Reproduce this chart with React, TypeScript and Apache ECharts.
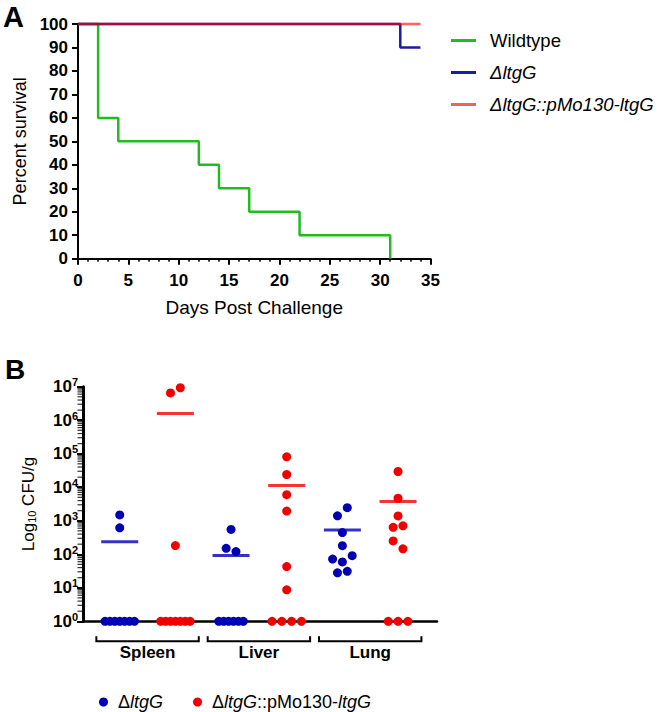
import React, { useEffect, useRef } from 'react';
import * as echarts from 'echarts';

// ---------- Panel A: survival ----------
const wildtypeDays = [0, 2, 4, 12, 14, 17, 22, 31];
const wildtypeSurvival = [100, 60, 50, 40, 30, 20, 10, 0];
const ltgGDays = [0, 32, 34];
const ltgGSurvival = [100, 90, 90];
const complementedDays = [0, 34];
const complementedSurvival = [100, 100];
const survivalNames = ['Wildtype', 'ΔltgG', 'ΔltgG::pMo130-ltgG'];

// ---------- Panel B: CFU per organ ----------
const organs = ['Spleen', 'Liver', 'Lung'];
const ltgGCfu = [
  [1490, 615, 1, 1, 1, 1, 1, 1, 1],
  [550, 150, 120, 1, 1, 1, 1, 1, 1],
  [2450, 1400, 445, 180, 91, 72, 59, 31, 28],
];
const ltgGSlots = [
  [0, 0, -3, -2, -1, 0, 1, 2, 3],
  [0, -1, 1, -2.5, -1.5, -0.5, 0.5, 1.5, 2.5],
  [1, -1, 0, 0, 2, -2, 0, 1, -1],
];
const compCfu = [
  [9300000, 6500000, 182, 1, 1, 1, 1, 1, 1, 1],
  [81000, 24000, 6000, 1950, 43, 8.7, 1, 1, 1, 1],
  [29500, 4700, 1390, 705, 635, 250, 145, 1, 1, 1],
];
const compSlots = [
  [1, -1, 0, -3, -2, -1, 0, 1, 2, 3],
  [0, 0, 0, 0, 0, 0, -3, -1, 1, 3],
  [0, 0, 0, 1, -1, -1, 1, -2, 0, 2],
];
const cfuTicks = [1, 10, 100, 1e3, 1e4, 1e5, 1e6, 1e7];
const cfuNames = ['B:ΔltgG', 'B:ΔltgG::pMo130-ltgG'];

const FONT = "'Liberation Sans', Arial, Helvetica, sans-serif";
const GREEN = '#22bb22';
const NAVY = '#1c1ca0';
const SALMON = '#ff0000';
const BLUE_B = '#0000b4';
const RED_B = '#f20000';
const SLOT = 0.088;

const zip = (a: number[], b: number[]) => a.map((v, i) => [v, b[i]]);
const mean = (a: number[]) => a.reduce((s, v) => s + v, 0) / a.length;

function dots(values: number[][], slots: number[][], strain: number) {
  const out: number[][] = [];
  values.forEach((arr, organ) => {
    arr.forEach((v, k) => out.push([1 + 2 * organ + strain + slots[organ][k] * SLOT, v]));
  });
  return out;
}
function means(values: number[][], strain: number) {
  return values.map((arr, organ) => [1 + 2 * organ + strain, mean(arr)]);
}
function minorTicks() {
  const out: number[][] = [];
  for (let d = 0; d < cfuTicks.length - 1; d++) {
    for (let m = 2; m <= 9; m++) out.push([0.34, m * cfuTicks[d]]);
  }
  return out;
}

export default function App() {
  const ref = useRef<HTMLDivElement>(null);
  useEffect(() => {
    if (!ref.current) return;
    const chart = echarts.init(ref.current, undefined, { renderer: 'svg' });
    const option: any = {
      animation: false,
      textStyle: { fontFamily: FONT },
      graphic: [
        { type: 'text', left: 3, top: 2, style: { text: 'A', font: `bold 29px ${FONT}`, fill: '#000' } },
        { type: 'text', left: 5, top: 355, style: { text: 'B', font: `bold 28px ${FONT}`, fill: '#000' } },
      ],
      legend: [
        {
          data: survivalNames,
          orient: 'vertical',
          left: 451,
          top: 26,
          itemWidth: 25,
          itemHeight: 3,
          itemGap: 13,
          icon: 'rect',
          padding: [5, 0, 5, 0],
          formatter: (n: string) => (n === 'Wildtype' ? `{n|${n}}` : `{i|${n}}`),
          textStyle: {
            padding: [0, 0, 0, 9],
            rich: {
              n: { fontSize: 18.5, fontFamily: FONT, color: '#000', lineHeight: 22 },
              i: { fontSize: 18.5, fontFamily: FONT, fontStyle: 'italic', color: '#000', lineHeight: 22 },
            },
          },
        },
        {
          data: [
            { name: cfuNames[0], itemStyle: { color: BLUE_B } },
            { name: cfuNames[1], itemStyle: { color: RED_B } },
          ],
          orient: 'horizontal',
          left: 99,
          top: 693,
          itemWidth: 9,
          itemHeight: 9,
          itemGap: 30,
          icon: 'circle',
          padding: 0,
          formatter: (n: string) =>
            n === cfuNames[0]
              ? '{n|Δ}{i|ltgG}'
              : '{n|Δ}{i|ltgG}{n|::pMo130-}{i|ltgG}',
          textStyle: {
            padding: [0, 0, 0, 5],
            rich: {
              n: { fontSize: 18, fontFamily: FONT, color: '#000', lineHeight: 17 },
              i: { fontSize: 18, fontFamily: FONT, fontStyle: 'italic', color: '#000', lineHeight: 17 },
            },
          },
        },
      ],
      grid: [
        { left: 78, top: 24, width: 352.5, height: 234.7 },
        { left: 83, top: 386.7, width: 354, height: 234.6 },
      ],
      xAxis: [
        {
          gridIndex: 0,
          type: 'value',
          min: 0,
          max: 35,
          interval: 5,
          name: 'Days Post Challenge',
          nameLocation: 'middle',
          nameGap: 39,
          nameTextStyle: { fontSize: 19, color: '#000', verticalAlign: 'top', fontFamily: FONT },
          axisLine: { lineStyle: { color: '#000', width: 2 } },
          axisTick: { length: 6, lineStyle: { color: '#000', width: 2 } },
          minorTick: { show: true, splitNumber: 5, length: 3, lineStyle: { color: '#000', width: 1.5 } },
          axisLabel: { margin: 13, fontSize: 17, fontWeight: 'bold', color: '#000', fontFamily: FONT },
          splitLine: { show: false },
        },
        {
          gridIndex: 1,
          type: 'value',
          min: 0.34,
          max: 6.7,
          axisLine: { onZero: false, lineStyle: { color: '#000', width: 2.5 } },
          axisTick: { show: false },
          axisLabel: { show: false },
          splitLine: { show: false },
        },
      ],
      yAxis: [
        {
          gridIndex: 0,
          type: 'value',
          min: 0,
          max: 100,
          interval: 10,
          name: 'Percent survival',
          nameLocation: 'middle',
          nameRotate: 90,
          nameGap: 42,
          nameTextStyle: { fontSize: 18, color: '#000', fontFamily: FONT },
          axisLine: { show: true, lineStyle: { color: '#000', width: 2 } },
          axisTick: { show: true, length: 6, lineStyle: { color: '#000', width: 2 } },
          axisLabel: { margin: 10, fontSize: 17, fontWeight: 'bold', color: '#000', fontFamily: FONT },
          splitLine: { show: false },
        },
        {
          gridIndex: 1,
          type: 'log',
          logBase: 10,
          min: 1,
          max: 1e7,
          splitNumber: 7,
          name: 'Log{s|10} CFU/g',
          nameLocation: 'middle',
          nameRotate: 90,
          nameGap: 46,
          nameTextStyle: {
            fontSize: 17,
            color: '#000',
            fontFamily: FONT,
            rich: { s: { fontSize: 11, color: '#000', fontFamily: FONT, verticalAlign: 'bottom', lineHeight: 14 } },
          },
          axisLine: { show: true, lineStyle: { color: '#000', width: 3 } },
          axisTick: { show: true, length: 6, lineStyle: { color: '#000', width: 2 } },
          axisLabel: {
            margin: 5,
            color: '#000',
            formatter: (v: number) => `{b|10}{s|${Math.round(Math.log10(v))}}`,
            rich: {
              b: { fontSize: 17, fontWeight: 'bold', fontFamily: FONT, color: '#000', lineHeight: 20 },
              s: { fontSize: 11, fontWeight: 'bold', fontFamily: FONT, color: '#000', verticalAlign: 'top', lineHeight: 12 },
            },
          },
          splitLine: { show: false },
        },
      ],
      series: [
        {
          name: survivalNames[0],
          type: 'line',
          xAxisIndex: 0,
          yAxisIndex: 0,
          step: 'end',
          showSymbol: false,
          clip: false,
          data: zip(wildtypeDays, wildtypeSurvival),
          itemStyle: { color: GREEN },
          lineStyle: { color: GREEN, width: 2.5 },
          z: 2,
        },
        {
          name: survivalNames[1],
          type: 'line',
          xAxisIndex: 0,
          yAxisIndex: 0,
          step: 'end',
          showSymbol: false,
          clip: false,
          data: zip(ltgGDays, ltgGSurvival),
          itemStyle: { color: NAVY },
          lineStyle: { color: NAVY, width: 2.5 },
          z: 3,
        },
        {
          name: survivalNames[2],
          type: 'line',
          xAxisIndex: 0,
          yAxisIndex: 0,
          step: 'end',
          showSymbol: false,
          clip: false,
          data: zip(complementedDays, complementedSurvival),
          itemStyle: { color: '#f06060' },
          lineStyle: { color: SALMON, width: 2.5, opacity: 0.62 },
          z: 4,
        },
        {
          type: 'scatter',
          xAxisIndex: 1,
          yAxisIndex: 1,
          symbol: 'rect',
          symbolSize: [37, 3],
          clip: false,
          silent: true,
          data: means(ltgGCfu, 0),
          itemStyle: { color: BLUE_B },
          z: 2,
        },
        {
          type: 'scatter',
          xAxisIndex: 1,
          yAxisIndex: 1,
          symbol: 'rect',
          symbolSize: [37, 3],
          clip: false,
          silent: true,
          data: means(compCfu, 1),
          itemStyle: { color: RED_B },
          z: 2,
        },
        {
          name: cfuNames[0],
          type: 'scatter',
          xAxisIndex: 1,
          yAxisIndex: 1,
          symbol: 'circle',
          symbolSize: 9,
          clip: false,
          data: dots(ltgGCfu, ltgGSlots, 0),
          itemStyle: { color: BLUE_B, opacity: 1 },
          z: 4,
        },
        {
          name: cfuNames[1],
          type: 'scatter',
          xAxisIndex: 1,
          yAxisIndex: 1,
          symbol: 'circle',
          symbolSize: 9,
          clip: false,
          data: dots(compCfu, compSlots, 1),
          itemStyle: { color: RED_B, opacity: 1 },
          z: 4,
        },
        {
          type: 'scatter',
          xAxisIndex: 1,
          yAxisIndex: 1,
          symbol: 'rect',
          symbolSize: [5, 1.2],
          symbolOffset: [-3, 0],
          clip: false,
          silent: true,
          data: minorTicks(),
          itemStyle: { color: '#000' },
          z: 1,
        },
        {
          type: 'custom',
          xAxisIndex: 1,
          yAxisIndex: 1,
          clip: false,
          silent: true,
          data: organs.map((_, i) => [1.5 + 2 * i, 1]),
          encode: { x: 0, y: 1 },
          renderItem: (params: any, api: any) => {
            const c = api.value(0);
            const l = api.coord([c - 0.92, 1]);
            const r = api.coord([c + 0.92, 1]);
            const y0 = l[1];
            return {
              type: 'group',
              children: [
                {
                  type: 'polyline',
                  shape: { points: [[l[0], y0 + 15], [l[0], y0 + 20], [r[0], y0 + 20], [r[0], y0 + 15]] },
                  style: { stroke: '#000', lineWidth: 2, fill: 'none' },
                },
                {
                  type: 'text',
                  style: {
                    text: organs[params.dataIndex],
                    x: (l[0] + r[0]) / 2,
                    y: y0 + 31,
                    align: 'center',
                    verticalAlign: 'middle',
                    fontSize: 17,
                    fontWeight: 'bold',
                    fontFamily: FONT,
                    fill: '#000',
                  },
                },
              ],
            };
          },
        },
      ],
    };
    chart.setOption(option);
    return () => chart.dispose();
  }, []);
  return (
    <div
      ref={ref}
      style={{ position: 'fixed', left: 0, top: 0, width: 663, height: 712, background: '#fff' }}
    />
  );
}
